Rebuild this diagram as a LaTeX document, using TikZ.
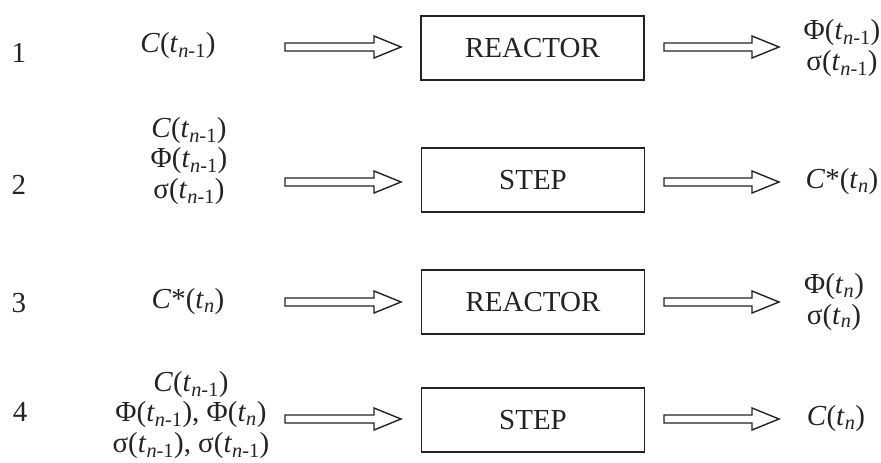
\documentclass[tikz,border=0pt]{standalone}
\usepackage{fontspec}
\setmainfont{Liberation Serif}
\usetikzlibrary{calc}
\definecolor{ink}{RGB}{35,35,35}
\newcommand\ti[1]{\textit{t}\textsubscript{\textit{#1}}}
\newcommand\tnm{\textit{t}\textsubscript{\textit{n}-1}}
\newcommand\fatarr[2]{\draw[arr] ($(#1)+(0,4)$) -- ($(#2)+(-27,4)$) -- ($(#2)+(-27,11)$) -- (#2) -- ($(#2)+(-27,-11)$) -- ($(#2)+(-27,-4)$) -- ($(#1)+(0,-4)$) -- cycle;}
\begin{document}
\begin{tikzpicture}[x=1pt,y=-1pt,
  txt/.style={inner sep=0pt, align=center, text=ink, font=\fontsize{29}{30.5}\selectfont},
  box/.style={draw=ink, line width=1.6pt, minimum width=223pt, minimum height=64pt, inner sep=0pt, text=ink, font=\fontsize{29}{31}\selectfont},
  arr/.style={draw=ink, line width=1.4pt, line join=miter, fill=white}]
\useasboundingbox (0,0) rectangle (881,463);
% row labels
\node[txt] (n1) at (19,53) {1};
\node[txt] (n2) at (19,185) {2};
\node[txt] (n3) at (19,303) {3};
\node[txt] (n4) at (20,412) {4};
% inputs
\node[txt] (in1) at (178,46) {\textit{C}(\tnm)};
\node[txt] (in2) at (189,161) {\textit{C}(\tnm)\\Φ(\tnm)\\σ(\tnm)};
\node[txt] (in3) at (188,302) {\textit{C}*(\ti{n})};
\node[txt] (in4) at (191,415) {\textit{C}(\tnm)\\Φ(\tnm), Φ(\ti{n})\\σ(\tnm), σ(\tnm)};
% boxes
\node[box] (b1) at (532.5,48) {REACTOR};
\node[box] (b2) at (533,180) {STEP};
\node[box] (b3) at (533,302) {REACTOR};
\node[box] (b4) at (533,420) {STEP};
% outputs
\node[txt] (out1) at (842,48) {Φ(\tnm)\\σ(\tnm)};
\node[txt] (out2) at (842,182) {\textit{C}*(\ti{n})};
\node[txt] (out3) at (834,302) {Φ(\ti{n})\\σ(\ti{n})};
\node[txt] (out4) at (836,419) {\textit{C}(\ti{n})};
% arrow ends
\foreach \r/\y in {1/47,2/182,3/302,4/419}{
  \coordinate (s\r) at (285,\y);
  \coordinate (e\r) at (401,\y);
  \coordinate (p\r) at (664,\y);
  \coordinate (q\r) at (779,\y);
}
\fatarr{s1}{e1}\fatarr{p1}{q1}
\fatarr{s2}{e2}\fatarr{p2}{q2}
\fatarr{s3}{e3}\fatarr{p3}{q3}
\fatarr{s4}{e4}\fatarr{p4}{q4}
\end{tikzpicture}
\end{document}
